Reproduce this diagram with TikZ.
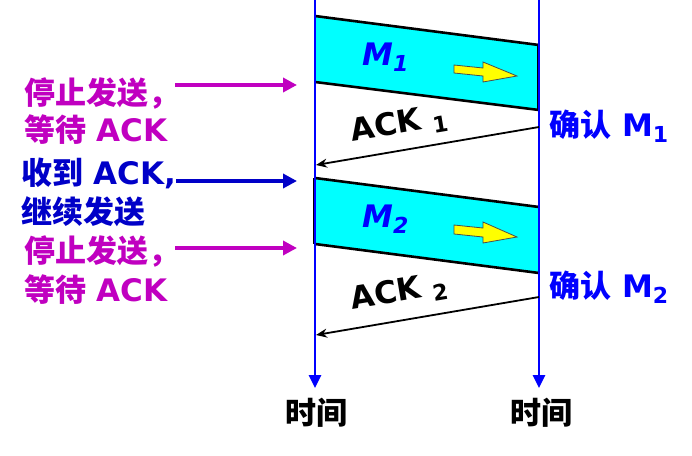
\documentclass[tikz,border=0pt]{standalone}
\usepackage{fontspec}
\setmainfont{DejaVu Sans}
\newfontfamily\cjk{Noto Sans CJK SC}
\usetikzlibrary{arrows.meta}
\definecolor{mag}{RGB}{192,0,192}
\definecolor{dblue}{RGB}{0,0,200}
\definecolor{lblue}{RGB}{0,0,255}
\definecolor{band}{RGB}{0,255,255}
\definecolor{yel}{RGB}{255,255,0}
\newcommand{\zh}[1]{{\cjk\fontsize{31}{36}\selectfont #1}}
\newcommand{\subs}[1]{\raisebox{-0.35ex}{\fontsize{22}{24}\selectfont #1}}
\tikzset{
  lab/.style={inner sep=0pt, anchor=west, font=\bfseries\fontsize{31}{34}\selectfont},
  timeline/.style={draw=lblue, line width=2.6pt, -{Triangle[length=13pt,width=12pt]}},
  edge/.style={draw=black, line width=2.6pt},
  ack/.style={draw=black, line width=1.8pt, -{Stealth[length=11pt,width=9pt]}},
  note/.style={line width=3.5pt, -{Triangle[length=14pt,width=14pt]}},
  yarrow/.style={fill=yel, draw=black!70, line width=0.8pt},
}
\begin{document}
\begin{tikzpicture}[x=1pt,y=-1pt]
\useasboundingbox (0,0) rectangle (692,455);
% bands
\fill[band] (315,16) -- (539,45) -- (539,110) -- (315,82) -- cycle;
\fill[band] (315,178) -- (539,207) -- (539,273) -- (315,244) -- cycle;
\coordinate (b1a) at (315,16); \coordinate (b1b) at (539,45);
\coordinate (b1c) at (315,82); \coordinate (b1d) at (539,110);
\coordinate (b2a) at (315,178); \coordinate (b2b) at (539,207);
\coordinate (b2c) at (315,244); \coordinate (b2d) at (539,273);
\draw[edge] (b1a) -- (b1b);
\draw[edge] (b1c) -- (b1d);
\draw[edge] (b2a) -- (b2b);
\draw[edge] (b2c) -- (b2d);
\draw[black, line width=2pt] (537.5,45) -- (537.5,110);
\draw[black, line width=2pt] (313.5,178) -- (313.5,244);
% yellow arrows
\fill[yarrow] (454,65) -- (483,68) -- (483,62) -- (517,76) -- (483,82) -- (483,76) -- (454,73) -- cycle;
\fill[yarrow] (454,225) -- (483,228) -- (483,222) -- (517,237) -- (483,243) -- (483,237) -- (454,234) -- cycle;
% M labels
\node[lab, text=lblue, font=\bfseries\itshape\fontsize{31}{34}\selectfont] (m1) at (362,57) {M\subs{1}};
\node[lab, text=lblue, font=\bfseries\itshape\fontsize{31}{34}\selectfont] (m2) at (362,219) {M\subs{2}};
% timelines
\coordinate (Lt) at (315,0); \coordinate (Lb) at (315,388);
\coordinate (Rt) at (539,0); \coordinate (Rb) at (539,388);
\draw[timeline] (Lt) -- (Lb);
\draw[timeline] (Rt) -- (Rb);
% ACK lines
\coordinate (r1) at (539,127); \coordinate (l1) at (316,165);
\coordinate (r2) at (539,297); \coordinate (l2) at (316,335);
\draw[ack] (r1) -- (l1);
\draw[ack] (r2) -- (l2);
\node[lab, rotate=9.5] (a1) at (351,133) {ACK \subs{1}};
\node[lab, rotate=9.5] (a2) at (351,301) {ACK \subs{2}};
% right labels
\node[lab, text=lblue] (c1) at (549,126) {\zh{确认} M\subs{1}};
\node[lab, text=lblue] (c2) at (549,287) {\zh{确认} M\subs{2}};
% time labels
\node[lab, anchor=center] (t1) at (316,413) {\zh{时间}};
\node[lab, anchor=center] (t2) at (541,413) {\zh{时间}};
% left notes
\node[lab, text=mag] (n1a) at (24,93) {\zh{停止发送，}};
\node[lab, text=mag] (n1b) at (24,130) {\zh{等待} ACK};
\node[lab, text=dblue] (n2a) at (21,173) {\zh{收到} ACK,};
\node[lab, text=dblue] (n2b) at (21,212) {\zh{继续发送}};
\node[lab, text=mag] (n3a) at (24,251) {\zh{停止发送，}};
\node[lab, text=mag] (n3b) at (24,290) {\zh{等待} ACK};
\coordinate (s1) at (175,85); \coordinate (e1) at (297,85);
\coordinate (s2) at (176,181); \coordinate (e2) at (297,181);
\coordinate (s3) at (175,248); \coordinate (e3) at (297,248);
\draw[note, mag] (s1) -- (e1);
\draw[note, dblue] (s2) -- (e2);
\draw[note, mag] (s3) -- (e3);
\end{tikzpicture}
\end{document}
